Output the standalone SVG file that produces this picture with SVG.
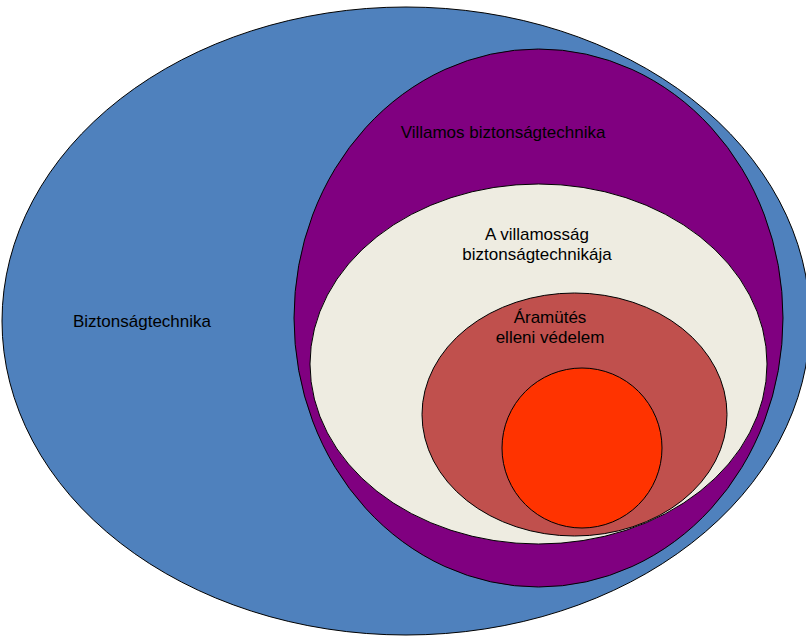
<svg xmlns="http://www.w3.org/2000/svg" width="806" height="636" viewBox="0 0 806 636">
<style>
.s{stroke:#000;stroke-width:1}
text{font-family:"Liberation Sans",Arial,sans-serif;font-size:17px;fill:#000}
.c{text-anchor:middle}
</style>
<rect width="806" height="636" fill="#fff"/>
<g id="biztonsagtechnika">
<ellipse class="s" cx="406" cy="321" rx="404" ry="314" fill="#4F81BD"/>
<text x="73" y="327">Biztonságtechnika</text>
</g>
<g id="villamos">
<ellipse class="s" cx="538.5" cy="318" rx="244.5" ry="269" fill="#800080"/>
<text class="c" x="503" y="138">Villamos biztonságtechnika</text>
</g>
<g id="villamossag">
<ellipse class="s" cx="538.5" cy="364" rx="228.5" ry="180" fill="#EEECE1"/>
<text class="c" x="537" y="240">A villamosság</text>
<text class="c" x="537" y="260">biztonságtechnikája</text>
</g>
<g id="aramutes">
<ellipse class="s" cx="574.5" cy="414.5" rx="152.5" ry="121.5" fill="#C0504D"/>
<text class="c" x="550" y="323">Áramütés</text>
<text class="c" x="550" y="343">elleni védelem</text>
</g>
<g id="core">
<circle class="s" cx="582" cy="448" r="80" fill="#FF3300"/>
</g>
<g id="connectors"/>
</svg>
